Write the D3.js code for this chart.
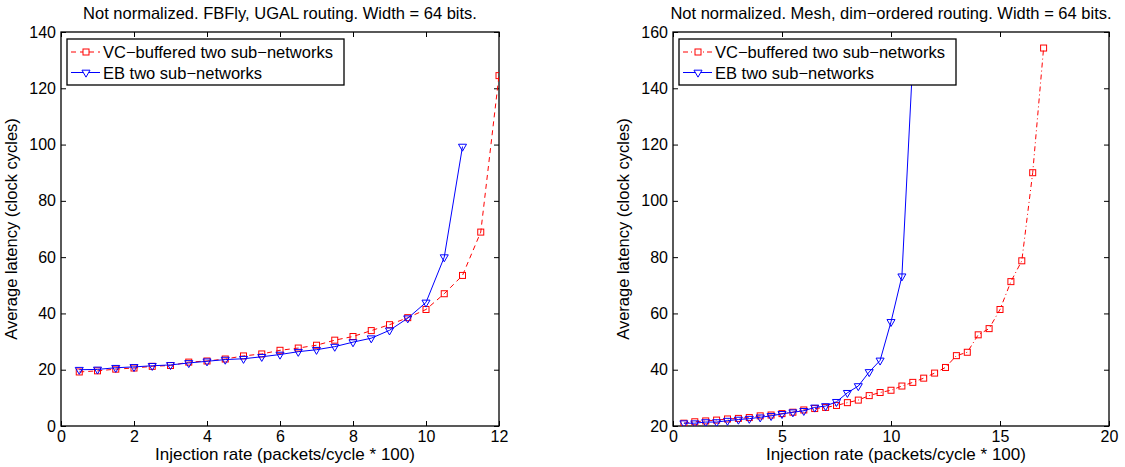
<!DOCTYPE html>
<html>
<head>
<meta charset="utf-8">
<script src="https://cdn.jsdelivr.net/npm/d3@7"></script>
<style>
  body { margin: 0; background: #fff; }
  svg text { font-family: "Liberation Sans", Arial, sans-serif; fill: #000; }
</style>
</head>
<body>
<div id="chart"></div>
<script>
// left panel: FBFly, UGAL
var xVcLeft = [0.5, 1, 1.5, 2, 2.5, 3, 3.5, 4, 4.5, 5, 5.5, 6, 6.5, 7, 7.5, 8, 8.5, 9, 9.5, 10, 10.5, 11, 11.5, 12];
var vcLeft = [19.2, 19.6, 20.2, 20.6, 21.2, 21.5, 22.7, 23.1, 23.8, 24.9, 25.6, 26.9, 27.7, 28.7, 30.5, 31.8, 33.9, 36.0, 38.5, 41.4, 47.0, 53.5, 68.9, 124.5];
var xEbLeft = [0.5, 1, 1.5, 2, 2.5, 3, 3.5, 4, 4.5, 5, 5.5, 6, 6.5, 7, 7.5, 8, 8.5, 9, 9.5, 10, 10.5, 11];
var ebLeft = [20.0, 20.1, 20.7, 21.0, 21.4, 21.7, 22.4, 23.0, 23.6, 23.9, 24.6, 25.4, 26.4, 27.1, 28.2, 29.8, 31.2, 34.0, 38.3, 43.9, 60.0, 99.3];

// right panel: Mesh, dim-ordered
var xVcRight = [0.5, 1, 1.5, 2, 2.5, 3, 3.5, 4, 4.5, 5, 5.5, 6, 6.5, 7, 7.5, 8, 8.5, 9, 9.5, 10, 10.5, 11, 11.5, 12, 12.5, 13, 13.5, 14, 14.5, 15, 15.5, 16, 16.5, 17];
var vcRight = [21.0, 21.5, 21.8, 22.1, 22.5, 22.7, 23.0, 23.6, 23.9, 24.4, 24.9, 25.7, 26.2, 26.6, 27.3, 28.3, 29.2, 30.8, 31.9, 32.7, 34.2, 35.5, 37.0, 38.8, 40.8, 45.0, 46.2, 52.4, 54.6, 61.4, 71.3, 78.7, 110.0, 154.3];
var xEbRight = [0.5, 1, 1.5, 2, 2.5, 3, 3.5, 4, 4.5, 5, 5.5, 6, 6.5, 7, 7.5, 8, 8.5, 9, 9.5, 10, 10.5, 11];
var ebRight = [21.0, 21.0, 21.4, 21.4, 21.9, 22.3, 22.6, 23.1, 23.6, 24.3, 24.9, 25.4, 26.6, 27.1, 28.6, 31.8, 34.2, 39.2, 43.3, 57.0, 73.2, 150];

var xTicksLeft = [0, 2, 4, 6, 8, 10, 12];
var yTicksLeft = [0, 20, 40, 60, 80, 100, 120, 140];
var xTicksRight = [0, 5, 10, 15, 20];
var yTicksRight = [20, 40, 60, 80, 100, 120, 140, 160];

var titleLeft = "Not normalized. FBFly, UGAL routing. Width = 64 bits.";
var titleRight = "Not normalized. Mesh, dim\u2212ordered routing. Width = 64 bits.";
var legendNames = ["VC\u2212buffered two sub\u2212networks", "EB two sub\u2212networks"];
var xLabel = "Injection rate (packets/cycle * 100)";
var yLabel = "Average latency (clock cycles)";

var svgWidth = 1125, svgHeight = 467;
var plotTop = 32, plotBottom = 426;
var fontSize = '16.5px';

var svg = d3.select("#chart")
        .append('svg')
        .attr('width', svgWidth)
        .attr('height', svgHeight);

function panel(p) {
    var xScale = d3.scaleLinear().domain(p.xDomain).range([p.left, p.right]);
    var yScale = d3.scaleLinear().domain(p.yDomain).range([plotBottom, plotTop]);
    var g = svg.append('g');

    // clip to plot box
    g.append('clipPath').attr('id', p.id + 'clip')
        .append('rect')
        .attr('x', p.left).attr('y', plotTop)
        .attr('width', p.right - p.left).attr('height', plotBottom - plotTop);

    // ticks, pointing inward on all four sides
    function tickAxis(axis, tr, labels) {
        var a = g.append('g').attr('transform', tr).call(axis);
        a.select('.domain').remove();
        a.selectAll('line').attr('stroke', '#000').attr('stroke-width', 1);
        a.selectAll('text').style('font-size', '16px')
            .style('font-family', '"Liberation Sans", Arial, sans-serif');
        if (!labels) a.selectAll('text').remove();
    }
    tickAxis(d3.axisBottom(xScale).tickValues(p.xTicks).tickSizeInner(-5).tickSizeOuter(0).tickPadding(5),
        'translate(0,' + plotBottom + ')', true);
    tickAxis(d3.axisTop(xScale).tickValues(p.xTicks).tickSizeInner(-5).tickSizeOuter(0),
        'translate(0,' + plotTop + ')', false);
    tickAxis(d3.axisLeft(yScale).tickValues(p.yTicks).tickSizeInner(-5).tickSizeOuter(0).tickPadding(5),
        'translate(' + p.left + ',0)', true);
    tickAxis(d3.axisRight(yScale).tickValues(p.yTicks).tickSizeInner(-5).tickSizeOuter(0),
        'translate(' + p.right + ',0)', false);

    g.append('rect')
        .attr('x', p.left).attr('y', plotTop)
        .attr('width', p.right - p.left).attr('height', plotBottom - plotTop)
        .attr('fill', 'none').attr('stroke', '#000').attr('stroke-width', 1.3);

    var line = d3.line()
        .x(function(d){ return xScale(d[0]); })
        .y(function(d){ return yScale(d[1]); });

    var vc = d3.zip(p.xVc, p.vc);
    var eb = d3.zip(p.xEb, p.eb);
    var plot = g.append('g').attr('clip-path', 'url(#' + p.id + 'clip)');

    plot.append('path').datum(vc)
        .attr('d', line).attr('fill', 'none')
        .attr('stroke', '#ff0000').attr('stroke-width', 1)
        .attr('stroke-dasharray', p.vcDash);
    plot.selectAll('.sq').data(vc).enter()
        .append('rect')
        .attr('x', function(d){ return xScale(d[0]) - 3; })
        .attr('y', function(d){ return yScale(d[1]) - 3; })
        .attr('width', 6).attr('height', 6)
        .attr('fill', 'none').attr('stroke', '#ff0000').attr('stroke-width', 1);

    plot.append('path').datum(eb)
        .attr('d', line).attr('fill', 'none')
        .attr('stroke', '#0000ff').attr('stroke-width', 1);
    var tri = d3.symbol().type(d3.symbolTriangle).size(28);
    plot.selectAll('.tri').data(eb).enter()
        .append('path')
        .attr('d', tri)
        .attr('transform', function(d){ return 'translate(' + xScale(d[0]) + ',' + yScale(d[1]) + ') rotate(180)'; })
        .attr('fill', 'none').attr('stroke', '#0000ff').attr('stroke-width', 1);

    // legend
    var lx = p.left + 6, ly = 39;
    var leg = g.append('g');
    leg.append('rect')
        .attr('x', lx).attr('y', ly).attr('width', 277).attr('height', 46)
        .attr('fill', '#fff').attr('stroke', '#000').attr('stroke-width', 1.3);
    var rows = [
        {name: legendNames[0], color: '#ff0000', dash: p.vcDash, mark: 'sq'},
        {name: legendNames[1], color: '#0000ff', dash: null, mark: 'tri'}
    ];
    rows.forEach(function(r, i) {
        var yy = ly + 13 + i * 20.5;
        leg.append('line')
            .attr('x1', lx + 4).attr('x2', lx + 33).attr('y1', yy).attr('y2', yy)
            .attr('stroke', r.color).attr('stroke-width', 1)
            .attr('stroke-dasharray', r.dash);
        if (r.mark === 'sq') {
            leg.append('rect').attr('x', lx + 16).attr('y', yy - 3).attr('width', 6).attr('height', 6)
                .attr('fill', '#fff').attr('stroke', r.color).attr('stroke-width', 1);
        } else {
            leg.append('path').attr('d', tri)
                .attr('transform', 'translate(' + (lx + 19) + ',' + yy + ') rotate(180)')
                .attr('fill', '#fff').attr('stroke', r.color).attr('stroke-width', 1);
        }
        leg.append('text').attr('x', lx + 36).attr('y', yy + 6)
            .style('font-size', fontSize).text(r.name);
    });

    // title and axis labels
    g.append('text').attr('x', (p.left + p.right) / 2).attr('y', 19)
        .attr('text-anchor', 'middle').style('font-size', fontSize).text(p.title);
    g.append('text').attr('x', (p.left + p.right) / 2 + 5).attr('y', 460)
        .attr('text-anchor', 'middle').style('font-size', '17px').text(xLabel);
    g.append('text')
        .attr('transform', 'translate(' + (p.left - 44) + ',' + ((plotTop + plotBottom) / 2) + ') rotate(-90)')
        .attr('text-anchor', 'middle').style('font-size', fontSize).text(yLabel);
}

panel({id: 'l', left: 61, right: 499, xDomain: [0, 12], yDomain: [0, 140],
    xTicks: xTicksLeft, yTicks: yTicksLeft, xVc: xVcLeft, vc: vcLeft, xEb: xEbLeft, eb: ebLeft,
    vcDash: '5,4', title: titleLeft});
panel({id: 'r', left: 673, right: 1109, xDomain: [0, 20], yDomain: [20, 160],
    xTicks: xTicksRight, yTicks: yTicksRight, xVc: xVcRight, vc: vcRight, xEb: xEbRight, eb: ebRight,
    vcDash: '5,3,1,3', title: titleRight});
</script>
</body>
</html>
